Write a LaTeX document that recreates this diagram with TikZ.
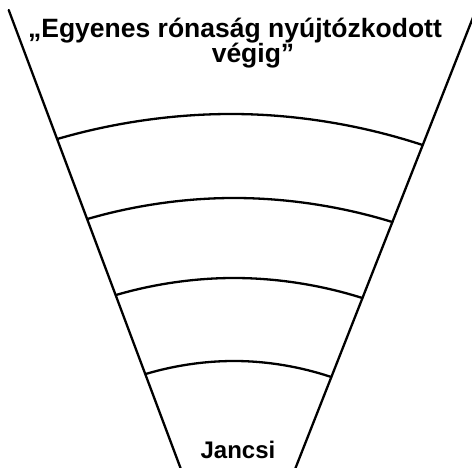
\documentclass[tikz,border=0pt]{standalone}
\usepackage{fontspec}
\setmainfont{Liberation Sans}
\begin{document}
\begin{tikzpicture}[x=1pt,y=1pt,
  funnel/.style={line width=2.3pt, line cap=round},
  lbl/.style={font=\bfseries\fontsize{26.5}{26}\selectfont, inner sep=0pt, anchor=base},
  small/.style={font=\bfseries\fontsize{24}{24}\selectfont}]
\useasboundingbox (0,0) rectangle (472,-468);
% side lines (x = 45.75+0.376(y-108.25) and x = 436.5-0.394(y-109.75))
\coordinate (ltop) at (8.7,-10);
\coordinate (lbot) at (185,-480);
\coordinate (rtop) at (478.3,-4);
\coordinate (rbot) at (289.6,-483);
% arc end points and vertices
\coordinate (a1l) at (57.3,-139);  \coordinate (a1v) at (231,-114); \coordinate (a1r) at (422.6,-145);
\coordinate (a2l) at (87.4,-219);  \coordinate (a2v) at (234,-198); \coordinate (a2r) at (392.3,-222);
\coordinate (a3l) at (116,-295);   \coordinate (a3v) at (234,-278); \coordinate (a3r) at (362.3,-298);
\coordinate (a4l) at (145.7,-374); \coordinate (a4v) at (234,-361); \coordinate (a4r) at (331.2,-377);
\begin{scope}
\clip (0,0) rectangle (472,-468);
\draw[funnel] (ltop) -- (lbot);
\draw[funnel] (rtop) -- (rbot);
\foreach \i in {1,2,3,4}{
  \draw[funnel] (a\i l) parabola bend (a\i v) (a\i r);
}
\end{scope}
\node[lbl] (title1) at (235,-38) {„Egyenes rónaság nyújtózkodott};
\node[lbl] (title2) at (253,-63) {végig”};
\node[lbl,small] (jancsi) at (238,-458) {Jancsi};
\end{tikzpicture}
\end{document}
